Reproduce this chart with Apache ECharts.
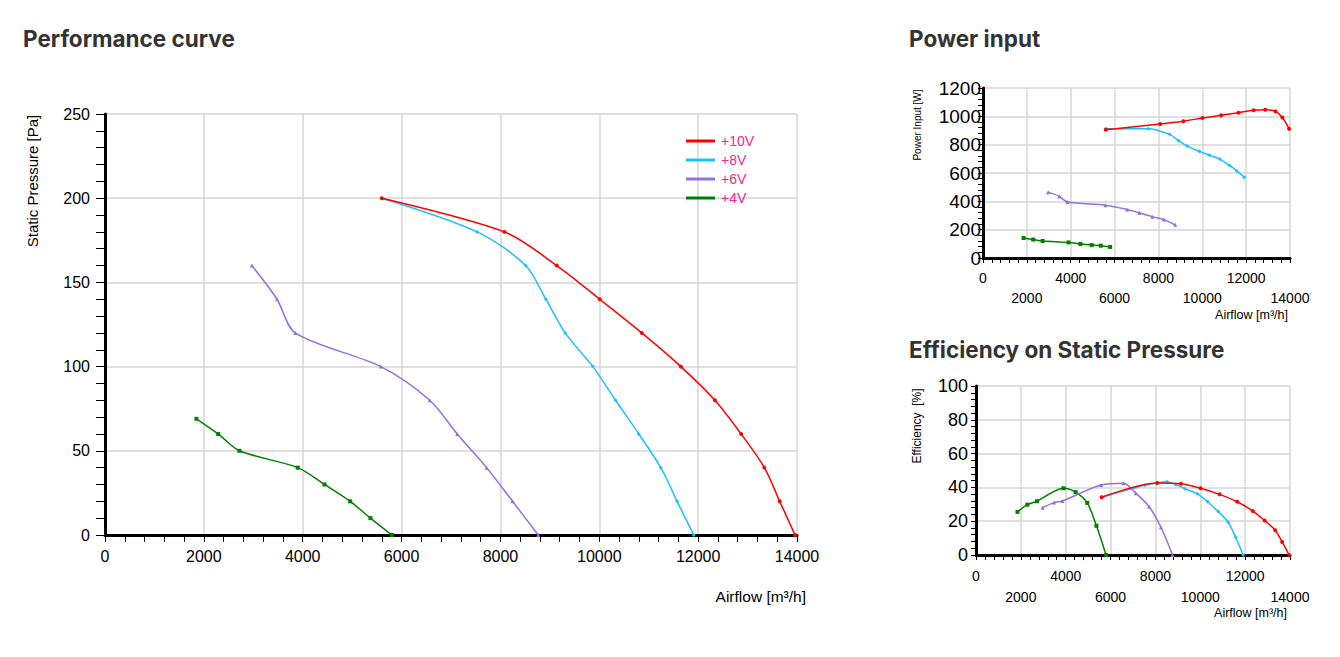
<!DOCTYPE html>
<html>
<head>
<meta charset="utf-8">
<script src="https://cdn.jsdelivr.net/npm/echarts@6/dist/echarts.min.js"></script>
<style>
html,body{margin:0;padding:0;background:#fff;}
#chart{width:1340px;height:657px;}
</style>
</head>
<body>
<div id="chart"></div>
<script>
// ---- data ----
var seriesNames = ['+10V', '+8V', '+6V', '+4V'];
var seriesColors = ['#ff0000', '#1ec0ff', '#9370db', '#008000'];
var seriesSymbols = ['circle', 'diamond', 'triangle', 'rect'];

var air10 = [5600, 8080, 9140, 10010, 10860, 11650, 12340, 12870, 13340, 13650, 13960];
var air8  = [5600, 7530, 8510, 8920, 9310, 9870, 10330, 10800, 11245, 11575, 11910];
var air6  = [2970, 3480, 3850, 5580, 6570, 7125, 7720, 8245, 8765];
var air4  = [1850, 2290, 2720, 3900, 4440, 4960, 5370, 5800];

var press10 = [200, 180, 160, 140, 120, 100, 80, 60, 40, 20, 0];
var press8  = [200, 180, 160, 140, 120, 100, 80, 60, 40, 20, 0];
var press6  = [160, 140, 120, 100, 80, 60, 40, 20, 0];
var press4  = [69, 60, 50, 40, 30, 20, 10, 0];

var power10 = [906, 946, 966, 988, 1007, 1026, 1043, 1047, 1035, 992, 913];
var power8  = [912, 913, 873, 828, 790, 753, 726, 698, 653, 615, 570];
var power6  = [465, 435, 395, 373, 343, 319, 292, 271, 234];
var power4  = [141, 130, 120, 110, 99, 91, 87, 78];

var eff10 = [34.2, 42.6, 42.1, 39.5, 35.9, 31.5, 26, 20.4, 14.7, 7.7, 0];
var eff8  = [34.2, 41.3, 43.4, 41.6, 39.2, 36.2, 31.5, 25.7, 19.4, 10.5, 0];
var eff6  = [28, 31, 32, 41.4, 42.4, 36.6, 28.6, 16.4, 0];
var eff4  = [25.5, 29.8, 31.8, 39.5, 37.2, 30.8, 17.3, 0];

var airflowTicks = [0, 14000, 2000];   // min, max, interval
var pressureTicks = [0, 250, 50];
var powerTicks = [0, 1200, 200];
var effTicks = [0, 100, 20];

var titles = ['Performance curve', 'Power input', 'Efficiency on Static Pressure'];
var xName = 'Airflow [m³/h]';
var yNames = ['Static Pressure [Pa]', 'Power Input [W]', 'Efficiency  [%]'];

// ---- build ----
var airs = [air10, air8, air6, air4];
var press = [press10, press8, press6, press4];
var powers = [power10, power8, power6, power4];
var effs = [eff10, eff8, eff6, eff4];

function pairs(xs, ys) { return xs.map(function (x, i) { return [x, ys[i]]; }); }

var labelFont = 'Liberation Sans, Arial, sans-serif';
var gridColor = '#d6d6d6';
var plainLabel = function (v) { return String(v); };
var altLabel = function (v, i) { return (i % 2 === 1) ? '\n' + v : String(v); };

function axisDef(gridIndex, ticks, opts) {
  var lbl = opts.label;
  if (!lbl.formatter) lbl.formatter = plainLabel;
  return {
    type: 'value', gridIndex: gridIndex,
    min: ticks[0], max: ticks[1], interval: ticks[2],
    axisLine: { show: true, onZero: false, lineStyle: { color: '#000', width: opts.lw } },
    axisTick: { show: true, inside: false, length: opts.tick, lineStyle: { color: '#000', width: 1 } },
    minorTick: { show: true, splitNumber: 5, length: opts.tick, lineStyle: { color: '#000', width: 1 } },
    splitLine: { show: true, lineStyle: { color: gridColor, width: 1.5 } },
    axisLabel: lbl
  };
}

var series = [];
var datasets = [press, powers, effs];
for (var g = 0; g < 3; g++) {
  for (var s = 0; s < 4; s++) {
    series.push({
      name: seriesNames[s], type: 'line',
      xAxisIndex: g, yAxisIndex: g,
      data: pairs(airs[s], datasets[g][s]),
      smooth: 0.3,
      symbol: seriesSymbols[s], symbolSize: 4,
      showSymbol: true,
      lineStyle: { color: seriesColors[s], width: 1.5 },
      itemStyle: { color: seriesColors[s] },
      z: 10 - s
    });
  }
}

var titleStyle = { fontSize: 22.5, fontWeight: 700, fontFamily: 'Inter, Noto Sans, sans-serif', color: '#333' };

var option = {
  animation: false,
  backgroundColor: '#fff',
  title: [
    { text: titles[0], left: 23, top: 27, padding: 0, textStyle: titleStyle },
    { text: titles[1], left: 909, top: 27, padding: 0, textStyle: titleStyle },
    { text: titles[2], left: 909, top: 338, padding: 0, textStyle: titleStyle }
  ],
  legend: {
    data: seriesNames, orient: 'vertical', left: 686, top: 134, padding: 0,
    icon: 'rect', itemWidth: 29, itemHeight: 3, itemGap: 5,
    textStyle: { color: '#f0288c', fontSize: 14, fontFamily: labelFont, padding: [0, 0, 0, 1] }
  },
  grid: [
    { left: 105, top: 114, width: 692, height: 421 },
    { left: 983, top: 88, width: 307, height: 170 },
    { left: 976, top: 386, width: 314, height: 169 }
  ],
  xAxis: [
    axisDef(0, airflowTicks, { lw: 3, tick: 7, label: { fontSize: 16, color: '#000', fontFamily: labelFont, margin: 13 } }),
    axisDef(1, airflowTicks, { lw: 3, tick: 5, label: { fontSize: 14, color: '#000', fontFamily: labelFont, margin: 10, lineHeight: 20, formatter: altLabel } }),
    axisDef(2, airflowTicks, { lw: 3, tick: 5, label: { fontSize: 14, color: '#000', fontFamily: labelFont, margin: 10, lineHeight: 21, formatter: altLabel } })
  ],
  yAxis: [
    axisDef(0, pressureTicks, { lw: 3, tick: 9, label: { fontSize: 16, color: '#000', fontFamily: labelFont, margin: 15 } }),
    axisDef(1, powerTicks, { lw: 3, tick: 5, label: { fontSize: 19, color: '#000', fontFamily: labelFont, margin: 2 } }),
    axisDef(2, effTicks, { lw: 3, tick: 5, label: { fontSize: 18, color: '#000', fontFamily: labelFont, margin: 8 } })
  ],
  graphic: [
    { type: 'text', x: 806, y: 596, style: { text: xName, font: '15.5px ' + labelFont, fill: '#000', textAlign: 'right', textVerticalAlign: 'middle' } },
    { type: 'text', x: 32, y: 181, rotation: Math.PI / 2, style: { text: yNames[0], font: '15px ' + labelFont, fill: '#000', textAlign: 'center', textVerticalAlign: 'middle' } },
    { type: 'text', x: 1288, y: 315, style: { text: xName, font: '12.5px ' + labelFont, fill: '#000', textAlign: 'right', textVerticalAlign: 'middle' } },
    { type: 'text', x: 917, y: 125, rotation: Math.PI / 2, style: { text: yNames[1], font: '10px ' + labelFont, fill: '#000', textAlign: 'center', textVerticalAlign: 'middle' } },
    { type: 'text', x: 1287, y: 613, style: { text: xName, font: '12.5px ' + labelFont, fill: '#000', textAlign: 'right', textVerticalAlign: 'middle' } },
    { type: 'text', x: 917, y: 426, rotation: Math.PI / 2, style: { text: yNames[2], font: '12px ' + labelFont, fill: '#000', textAlign: 'center', textVerticalAlign: 'middle' } }
  ],
  series: series
};

var chart = echarts.init(document.getElementById('chart'), null, { renderer: 'svg' });
chart.setOption(option);
</script>
</body>
</html>
